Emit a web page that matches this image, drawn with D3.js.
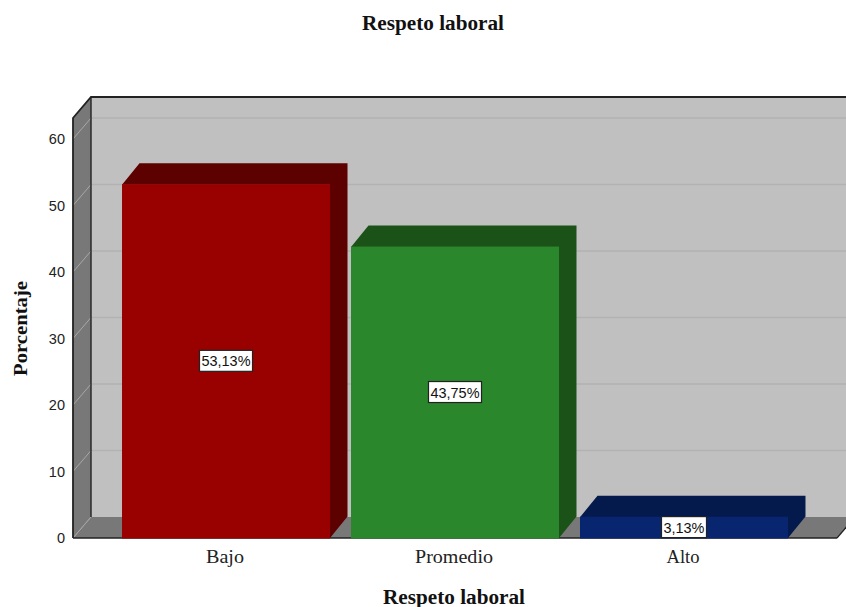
<!DOCTYPE html>
<html><head><meta charset="utf-8">
<script src="https://cdn.jsdelivr.net/npm/d3@7/dist/d3.min.js"></script>
<style>html,body{margin:0;padding:0;background:#fff;overflow:hidden}svg{display:block}</style>
</head><body><div id="chart"></div>
<script>
const categories = ["Bajo", "Promedio", "Alto"];
const values = [53.13, 43.75, 3.13];
const valueLabels = ["53,13%", "43,75%", "3,13%"];
const frontColors = ["#990000", "#2b872b", "#08266f"];
const topColors = ["#5c0000", "#1a5218", "#041a4c"];
const yTicks = [0, 10, 20, 30, 40, 50, 60];
const titleText = "Respeto laboral";
const xTitle = "Respeto laboral";
const yTitle = "Porcentaje";
const categoryLabelWidths = [38, 78, 33];

const W = 846, H = 607, dx = 18, dy = -21, barDx = 17.5, barDy = -21.5;
const y = d3.scaleLinear().domain([0, 60]).range([538, 139]);
const x = d3.scaleBand().domain(categories).range([111.5, 798.5]).paddingInner(0.0917).paddingOuter(0.0459);
const left = 73, right = 837, topVal = 63.16;
const serif = "'Liberation Serif', serif", sans = "'Liberation Sans', sans-serif";
const svg = d3.select("#chart").append("svg").attr("width", W).attr("height", H);
const poly = pts => pts.map(p => p.join(",")).join(" ");

// back wall
svg.append("rect").attr("x", left + dx).attr("y", y(topVal) + dy).attr("width", W - left - dx + 5)
  .attr("height", y(0) - y(topVal)).attr("fill", "#c0c0c0");
// left wall
svg.append("polygon").attr("points", poly([[left, y(0)], [left + dx, y(0) + dy], [left + dx, y(topVal) + dy], [left, y(topVal)]]))
  .attr("fill", "#787878");
// floor
svg.append("polygon").attr("points", poly([[left, y(0)], [right, y(0)], [right + dx, y(0) + dy], [left + dx, y(0) + dy]]))
  .attr("fill", "#787878");
// gridlines
yTicks.forEach(t => {
  if (t > 0) svg.append("line").attr("x1", left + dx).attr("x2", W).attr("y1", y(t) + dy).attr("y2", y(t) + dy)
    .attr("stroke", "#b2b2b2").attr("stroke-width", 1.5);
  svg.append("line").attr("x1", left).attr("x2", left + dx).attr("y1", y(t)).attr("y2", y(t) + dy)
    .attr("stroke", "#a8a8a8").attr("stroke-width", 1);
});
// frame lines
const ink = "#222";
svg.append("polyline").attr("fill", "none").attr("stroke", ink).attr("stroke-width", 1.8)
  .attr("points", poly([[left, y(0)], [left, y(topVal)], [left + dx, y(topVal) + dy], [W, y(topVal) + dy]]));
svg.append("line").attr("x1", left + dx).attr("x2", left + dx).attr("y1", y(topVal) + dy).attr("y2", y(0) + dy)
  .attr("stroke", ink).attr("stroke-width", 1.4);
svg.append("line").attr("x1", left).attr("x2", right).attr("y1", y(0)).attr("y2", y(0))
  .attr("stroke", ink).attr("stroke-width", 1.6);
svg.append("line").attr("x1", right).attr("x2", right + dx).attr("y1", y(0)).attr("y2", y(0) + dy)
  .attr("stroke", ink).attr("stroke-width", 1.2);

// bars
categories.forEach((c, i) => {
  const x0 = x(c), x1 = x0 + x.bandwidth(), yt = y(values[i]), yb = y(0);
  svg.append("polygon")
    .attr("points", poly([[x1, yb], [x1 + barDx, yb + barDy], [x1 + barDx, yt + barDy], [x0 + barDx, yt + barDy], [x0, yt], [x1, yt]]))
    .attr("fill", topColors[i]);
  svg.append("rect").attr("x", x0).attr("y", yt - 0.5).attr("width", x.bandwidth()).attr("height", yb - yt + 1).attr("fill", frontColors[i]);
});

// value labels
categories.forEach((c, i) => {
  const cx = x(c) + x.bandwidth() / 2, cy = (y(values[i]) + y(0)) / 2;
  const g = svg.append("g");
  g.append("text").attr("x", cx).attr("y", cy + 5).attr("text-anchor", "middle")
    .attr("font-family", sans).attr("font-size", 14).attr("textLength", i === 2 ? 41 : 49).attr("lengthAdjust", "spacingAndGlyphs")
    .attr("fill", "#111").text(valueLabels[i]);
  const w = i === 2 ? 45 : 53;
  g.insert("rect", "text").attr("x", cx - w / 2).attr("y", cy - 11).attr("width", w).attr("height", 21)
    .attr("fill", "#fff").attr("stroke", "#222").attr("stroke-width", 1.2);
});

// y axis labels
yTicks.forEach(t => svg.append("text").attr("x", 65).attr("y", y(t) + 5).attr("text-anchor", "end")
  .attr("font-family", sans).attr("font-size", 14.5).attr("fill", "#222").text(t));
// x axis labels
categories.forEach((c, i) => svg.append("text").attr("x", x(c) + x.bandwidth() / 2 - 1).attr("y", 563).attr("text-anchor", "middle")
  .attr("font-family", serif).attr("font-size", 19).attr("textLength", categoryLabelWidths[i]).attr("lengthAdjust", "spacingAndGlyphs")
  .attr("fill", "#222").text(c));
// titles
svg.append("text").attr("x", 433).attr("y", 30).attr("text-anchor", "middle").attr("font-family", serif)
  .attr("font-weight", "bold").attr("font-size", 20).attr("textLength", 142).attr("lengthAdjust", "spacingAndGlyphs").attr("fill", "#111").text(titleText);
svg.append("text").attr("x", 454).attr("y", 604).attr("text-anchor", "middle").attr("font-family", serif)
  .attr("font-weight", "bold").attr("font-size", 20).attr("textLength", 142).attr("lengthAdjust", "spacingAndGlyphs").attr("fill", "#111").text(xTitle);
svg.append("text").attr("transform", "translate(27,328.5) rotate(-90)").attr("text-anchor", "middle").attr("font-family", serif)
  .attr("font-weight", "bold").attr("font-size", 19).attr("textLength", 95).attr("lengthAdjust", "spacingAndGlyphs").attr("fill", "#111").text(yTitle);
</script></body></html>
